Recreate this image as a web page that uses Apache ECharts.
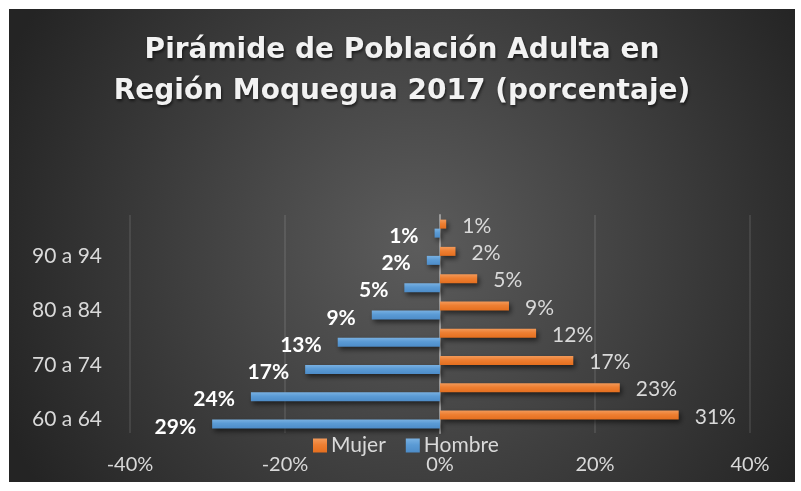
<!DOCTYPE html>
<html>
<head>
<meta charset="utf-8">
<script src="https://cdn.jsdelivr.net/npm/echarts@6/dist/echarts.min.js"></script>
<style>
  html, body { margin: 0; padding: 0; background: #ffffff; }
  #chart { position: absolute; left: 9px; top: 9px; width: 786px; height: 473px; }
</style>
</head>
<body>
<div id="chart"></div>
<script>
// ---- Data ----
const titleText = 'Pirámide de Población Adulta en\nRegión Moquegua 2017 (porcentaje)';
const categories = ['60 a 64', '65 a 69', '70 a 74', '75 a 79', '80 a 84', '85 a 89', '90 a 94', '95 a 99'];
const mujer = [30.8, 23.2, 17.2, 12.4, 8.9, 4.8, 2.0, 0.8];
const hombre = [29.4, 24.4, 17.4, 13.2, 8.8, 4.6, 1.7, 0.7];   // shown to the left (negative side)
const xTicks = { min: -40, max: 40, interval: 20 };
const legendNames = ['Mujer', 'Hombre'];

const chart = echarts.init(document.getElementById('chart'));
const font = 'Lato, "Open Sans", "Noto Sans", sans-serif';

const orange = new echarts.graphic.LinearGradient(0, 0, 0, 1, [
  { offset: 0, color: '#F39A5A' }, { offset: 0.45, color: '#EE7F32' }, { offset: 1, color: '#E56F1F' }
]);
const blue = new echarts.graphic.LinearGradient(0, 0, 0, 1, [
  { offset: 0, color: '#79B1E2' }, { offset: 0.45, color: '#5B9BD5' }, { offset: 1, color: '#4D8CC8' }
]);

const option = {
  backgroundColor: {
    type: 'radial', x: 0.52, y: 0.5, r: 0.95,
    colorStops: [
      { offset: 0, color: '#5c5c5c' },
      { offset: 1, color: '#242424' }
    ]
  },
  animation: false,
  title: {
    text: titleText,
    left: 'center',
    top: 16,
    textStyle: {
      fontFamily: '"DejaVu Sans", "Open Sans", sans-serif',
      fontWeight: 'bold',
      fontSize: 28,
      lineHeight: 41,
      color: '#f2f2f2',
      textShadowColor: 'rgba(0,0,0,0.6)',
      textShadowBlur: 3,
      textShadowOffsetX: 1,
      textShadowOffsetY: 2
    }
  },
  legend: {
    data: legendNames,
    left: 299,
    top: 421,
    itemWidth: 14,
    itemHeight: 14,
    itemGap: 20,
    icon: 'rect',
    textStyle: { color: '#d9d9d9', fontSize: 21, fontFamily: font, padding: [0, 0, 0, -1] }
  },
  grid: { left: 121, right: 45, top: 206, bottom: 49, containLabel: false },
  xAxis: {
    type: 'value',
    min: xTicks.min, max: xTicks.max, interval: xTicks.interval,
    axisLine: { show: false },
    axisTick: { show: false },
    axisLabel: {
      color: '#d9d9d9', fontSize: 20, fontFamily: font, margin: 22,
      formatter: v => v + '%'
    },
    splitLine: { lineStyle: { color: 'rgba(255,255,255,0.13)', width: 1.5 } }
  },
  yAxis: {
    type: 'category',
    data: categories,
    axisLine: { show: true, onZero: true, lineStyle: { color: '#9a9a9a', width: 2 } },
    axisTick: { show: false },
    axisLabel: { color: '#d9d9d9', fontSize: 21, fontFamily: font, margin: 28, interval: 1 },
    splitLine: { show: false }
  },
  series: [
    {
      name: 'Mujer',
      type: 'bar',
      data: mujer,
      barWidth: 9,
      barGap: '0%',
      itemStyle: {
        color: orange,
        shadowColor: 'rgba(0,0,0,0.55)', shadowBlur: 5, shadowOffsetX: 2, shadowOffsetY: 3
      },
      label: {
        show: true, position: 'right', distance: 16, offset: [0, 2],
        color: '#d9d9d9', fontSize: 21, fontFamily: font,
        formatter: p => Math.round(Math.abs(p.value)) + '%'
      }
    },
    {
      name: 'Hombre',
      type: 'bar',
      data: hombre.map(v => -v),
      barWidth: 9,
      barGap: '0%',
      itemStyle: {
        color: blue,
        shadowColor: 'rgba(0,0,0,0.55)', shadowBlur: 5, shadowOffsetX: 2, shadowOffsetY: 3
      },
      label: {
        show: true, position: 'left', distance: 16, offset: [0, 3],
        color: '#ffffff', fontSize: 21, fontWeight: 'bold', fontFamily: font,
        formatter: p => Math.round(Math.abs(p.value)) + '%'
      }
    }
  ]
};
chart.setOption(option);
</script>
</body>
</html>
